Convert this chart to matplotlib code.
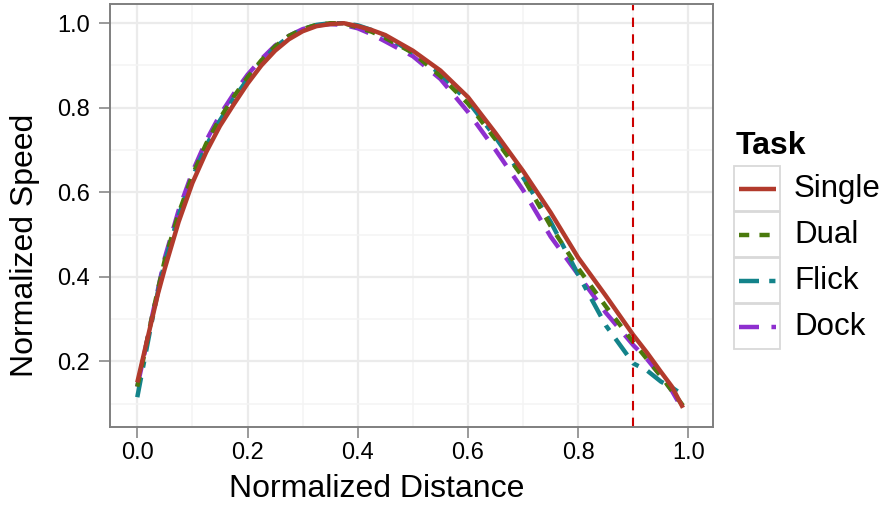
import matplotlib.pyplot as plt
from matplotlib.patches import Rectangle
from matplotlib.lines import Line2D

plt.rcParams['font.family'] = ['Liberation Sans', 'DejaVu Sans']

# data
distance = [0.0, 0.0125, 0.025, 0.0375, 0.05, 0.075, 0.1, 0.125, 0.15, 0.175, 0.2, 0.225,
            0.25, 0.275, 0.3, 0.325, 0.35, 0.375, 0.4, 0.425, 0.45, 0.5, 0.55, 0.6,
            0.65, 0.7, 0.75, 0.8, 0.85, 0.9, 0.925, 0.95, 0.97, 0.99]
single = [0.15, 0.22, 0.29, 0.36, 0.42, 0.53, 0.622, 0.695, 0.757, 0.808, 0.857, 0.9,
          0.935, 0.962, 0.981, 0.993, 0.998, 1.0, 0.993, 0.984, 0.972, 0.935, 0.888, 0.825,
          0.74, 0.65, 0.552, 0.445, 0.355, 0.262, 0.22, 0.175, 0.14, 0.09]
dual = [0.14, 0.215, 0.295, 0.37, 0.44, 0.55, 0.64, 0.715, 0.775, 0.826, 0.872, 0.912,
        0.945, 0.97, 0.986, 0.996, 1.0, 1.0, 0.99, 0.98, 0.965, 0.93, 0.875, 0.81,
        0.725, 0.635, 0.52, 0.42, 0.33, 0.245, 0.205, 0.165, 0.13, 0.095]
flick = [0.115, 0.2, 0.285, 0.365, 0.435, 0.545, 0.635, 0.71, 0.77, 0.822, 0.867, 0.908,
         0.943, 0.968, 0.986, 0.996, 1.0, 1.0, 0.995, 0.984, 0.97, 0.93, 0.88, 0.815,
         0.73, 0.635, 0.53, 0.405, 0.285, 0.195, 0.178, 0.152, 0.138, 0.12]
dock = [0.14, 0.215, 0.295, 0.37, 0.445, 0.557, 0.648, 0.722, 0.783, 0.833, 0.878, 0.915,
        0.947, 0.97, 0.986, 0.995, 0.998, 0.996, 0.988, 0.974, 0.957, 0.922, 0.868, 0.79,
        0.70, 0.605, 0.495, 0.405, 0.315, 0.238, 0.205, 0.165, 0.13, 0.085]
cutoff = 0.9

tasks = ['Single', 'Dual', 'Flick', 'Dock']
series = [single, dual, flick, dock]
colors = ['#B23A2C', '#4A7A0C', '#13838A', '#8E2FCF']
dashes = [None, (2.3, 2.3), (4.5, 2.3, 1.4, 2.3), (4.5, 2.8)]
LW = 3.2

W, H = 886, 507
fig = plt.figure(figsize=(W / 100, H / 100), dpi=100)


def fx(px):
    return px / W


def fy(py):
    return 1 - py / H


ax = fig.add_axes([fx(110), fy(427), fx(713) - fx(110), fy(4) - fy(427)])

for name, ys, col, ds in reversed(list(zip(tasks, series, colors, dashes))):
    ln, = ax.plot(distance, ys, color=col, lw=LW, solid_capstyle='butt')
    if ds:
        ln.set_dashes(ds)

ax.axvline(cutoff, color='#CC0000', lw=1.5, dashes=(4.5, 3.5))

ax.set_xlim(-0.0495, 1.0445)
ax.set_ylim(0.0445, 1.0455)
ax.set_xticks([0.0, 0.2, 0.4, 0.6, 0.8, 1.0])
ax.set_yticks([0.2, 0.4, 0.6, 0.8, 1.0])
ax.set_xticks([0.1, 0.3, 0.5, 0.7, 0.9], minor=True)
ax.set_yticks([0.1, 0.3, 0.5, 0.7, 0.9], minor=True)
ax.grid(which='major', color='#EBEBEB', lw=1.6)
ax.grid(which='minor', color='#F4F4F4', lw=1.1)
ax.set_axisbelow(True)
ax.tick_params(which='major', length=8, width=1.1, color='#7F7F7F',
               labelsize=17, labelcolor='black')
ax.tick_params(axis='x', pad=3)
ax.tick_params(axis='y', pad=6.5)
ax.tick_params(which='minor', length=0)
for s in ax.spines.values():
    s.set_color('#7F7F7F')
    s.set_linewidth(1.4)

ax.set_xlabel('Normalized Distance', fontsize=23)
ax.set_ylabel('Normalized Speed', fontsize=23)
ax.xaxis.set_label_coords(0.443, -0.111)
ax.yaxis.set_label_coords(-0.116, 0.43)

# legend drawn by hand to get the boxed keys
fig.text(fx(736), fy(146), 'Task', fontsize=23, fontweight='bold', va='center')
key_w, key_h = 47, 46
for i, (name, col, ds) in enumerate(zip(tasks, colors, dashes)):
    top = 166 + i * key_h
    fig.add_artist(Rectangle((fx(734), fy(top + key_h - 1)), fx(key_w - 1), fy(0) - fy(key_h - 1),
                             transform=fig.transFigure, facecolor='white',
                             edgecolor='#D9D9D9', lw=1.3))
    ln = Line2D([fx(739), fx(776)], [fy(top + key_h / 2)] * 2, transform=fig.transFigure,
                color=col, lw=LW, solid_capstyle='butt')
    if ds:
        ln.set_dashes(ds)
    fig.add_artist(ln)
    fig.text(fx(794), fy(top + key_h / 2), name, fontsize=22.5, va='center')

fig.savefig('out.png', dpi=100)
